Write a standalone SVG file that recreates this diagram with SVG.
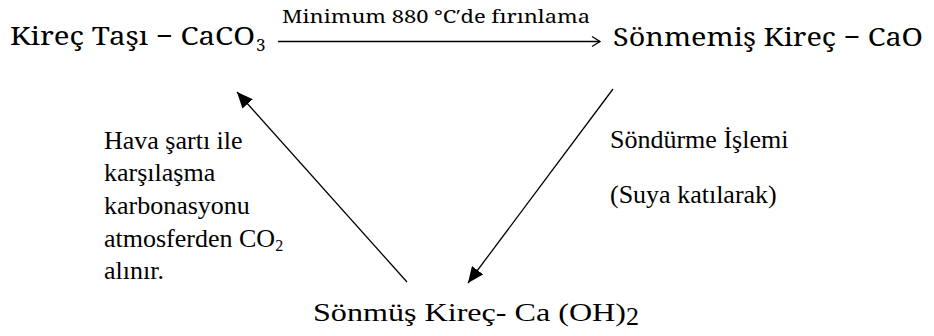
<svg xmlns="http://www.w3.org/2000/svg" width="934" height="336" viewBox="0 0 934 336">
<style>
.m{fill:#000}
.t{fill:#000;font-size:26px}
.ln{stroke:#000;stroke-width:1.3;fill:none}
</style>
<defs>
<marker id="ah" markerUnits="userSpaceOnUse" markerWidth="18" markerHeight="14" refX="16" refY="7" orient="auto">
<path d="M0,0 L16,7 L0,14 Z" fill="#000"/>
</marker>
</defs>
<rect width="934" height="336" fill="#fff"/>
<g id="node-kirectasi" font-family="Noto Serif, Liberation Serif, serif">
<text class="m" x="10" y="45" font-size="25" textLength="245" lengthAdjust="spacingAndGlyphs">Kireç Taşı − CaCO</text>
<text class="m" x="256" y="51" font-size="17">3</text>
</g>
<g id="node-sonmemis" font-family="Noto Serif, Liberation Serif, serif">
<text class="m" x="613" y="46" font-size="25" textLength="310" lengthAdjust="spacingAndGlyphs">Sönmemiş Kireç − CaO</text>
</g>
<g id="node-sonmus" font-family="Liberation Serif, serif">
<text class="t" x="313" y="321" textLength="313" lengthAdjust="spacingAndGlyphs">Sönmüş Kireç- Ca (OH)</text>
<text class="t" x="626" y="325" font-size="16">2</text>
</g>
<g id="connectors">
<line class="ln" x1="278" y1="41.5" x2="600" y2="41.5" stroke-width="1.6"/>
<path class="ln" d="M592,36.5 L600,41.5 L592,46.5" stroke-width="1.6"/>
<line class="ln" x1="613" y1="89" x2="468" y2="283" marker-end="url(#ah)"/>
<line class="ln" x1="407" y1="282" x2="237" y2="92" marker-end="url(#ah)"/>
</g>
<g id="label-firinlama" font-family="Noto Serif, Liberation Serif, serif">
<text class="m" x="282" y="23" font-size="18" textLength="308" lengthAdjust="spacingAndGlyphs">Minimum 880 °C′de fırınlama</text>
</g>
<g id="label-sondurme" font-family="Liberation Serif, serif">
<text class="t" x="610" y="148">Söndürme İşlemi</text>
<text class="t" x="610" y="203">(Suya katılarak)</text>
</g>
<g id="label-karbonasyon" font-family="Liberation Serif, serif">
<text class="t" x="104" y="149">Hava şartı ile</text>
<text class="t" x="104" y="181">karşılaşma</text>
<text class="t" x="104" y="214">karbonasyonu</text>
<text class="t" x="104" y="247">atmosferden CO<tspan font-size="16" dy="4">2</tspan></text>
<text class="t" x="104" y="279">alınır.</text>
</g>
</svg>
